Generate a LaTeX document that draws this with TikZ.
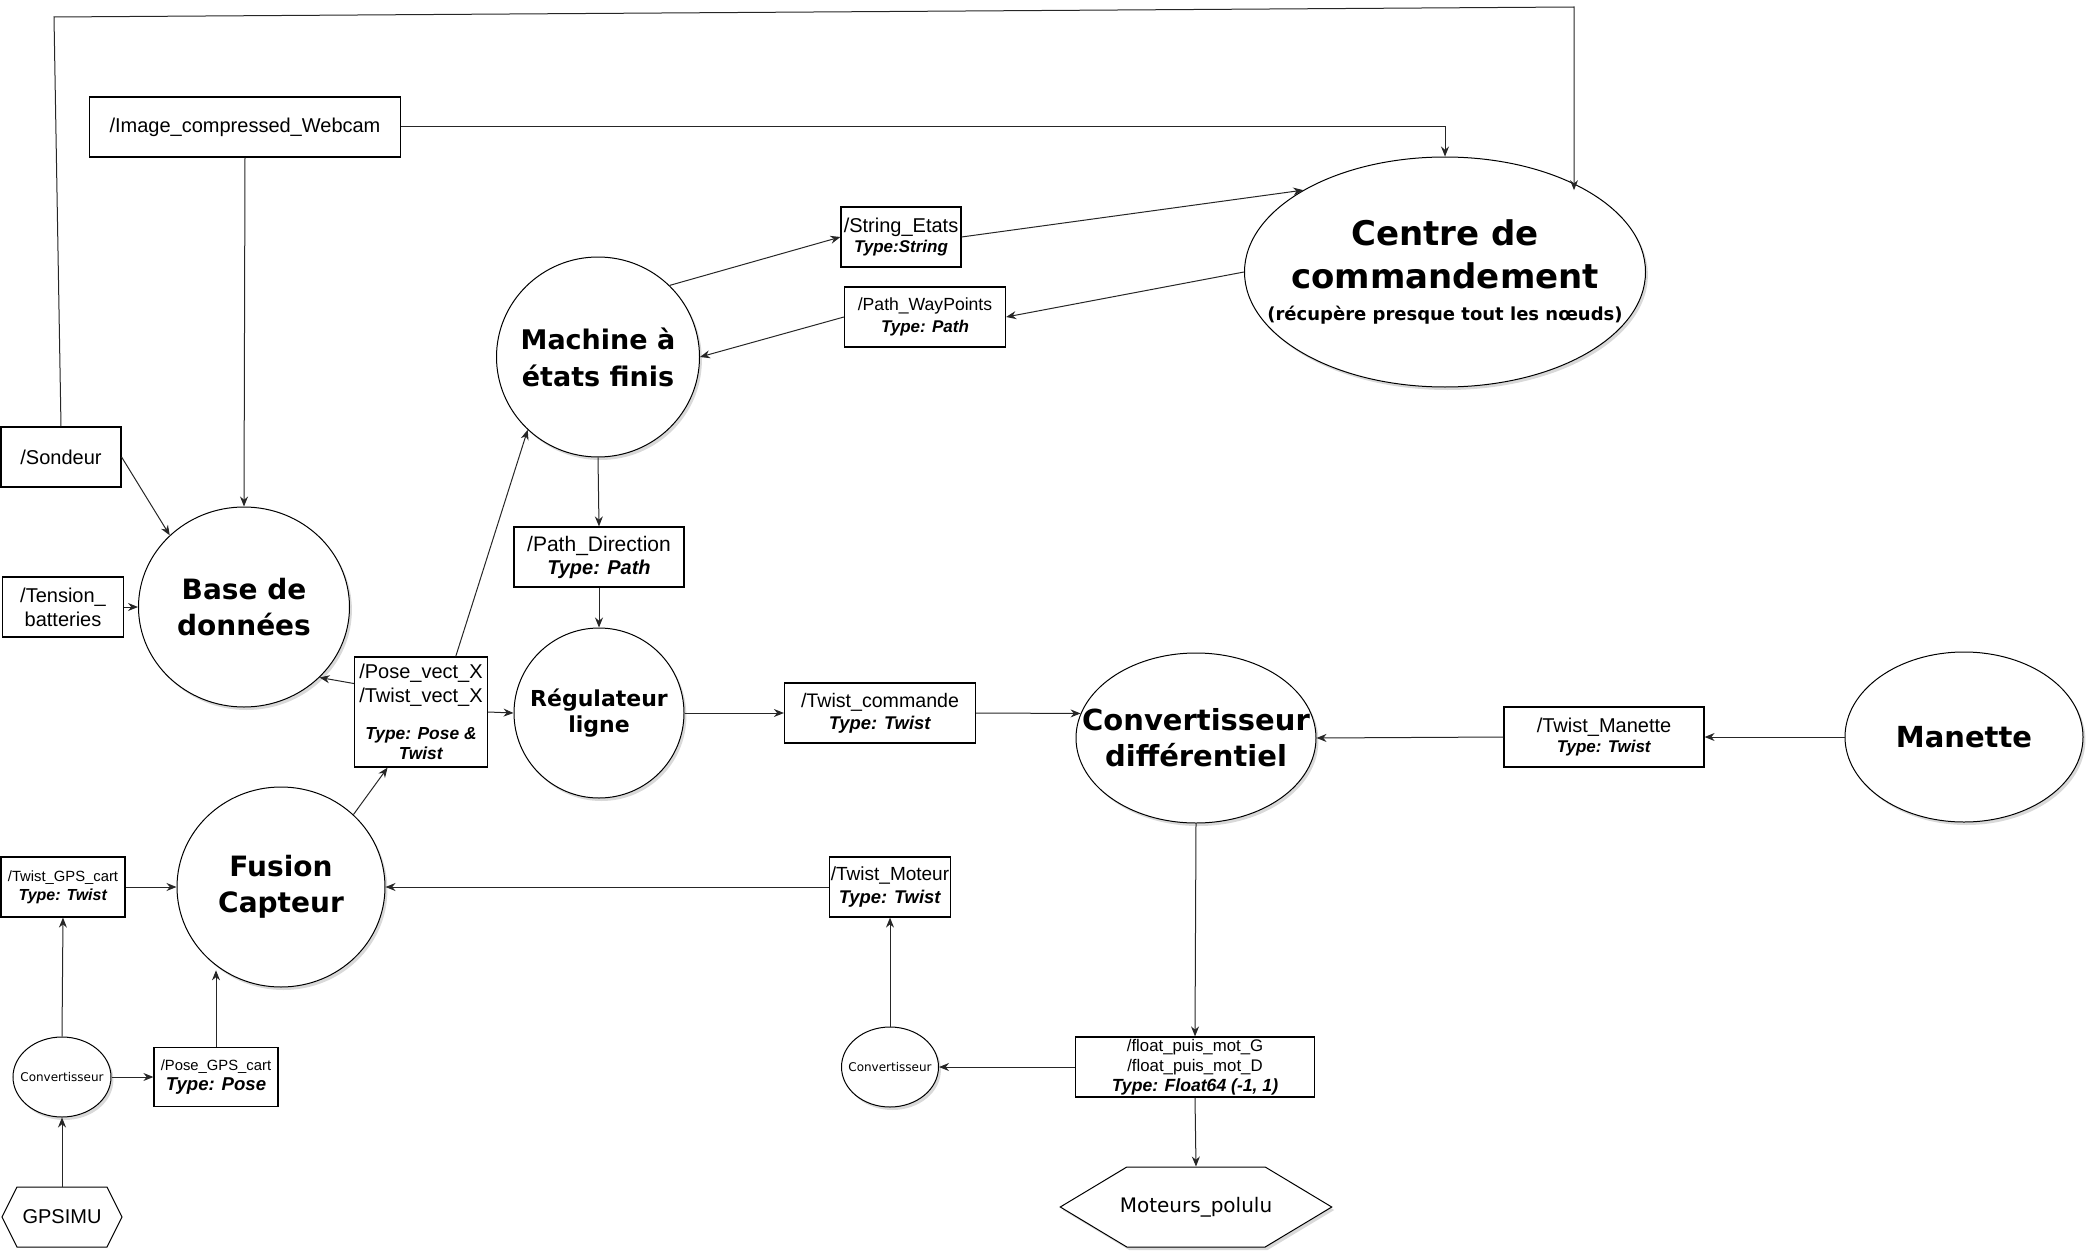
\documentclass[tikz,border=0pt]{standalone}
\usepackage{fontspec}
\setmainfont{Liberation Sans}
\newfontfamily\verdfont{DejaVu Sans}
\usetikzlibrary{shapes.geometric,shapes.symbols,arrows.meta,shadows}
\newcommand{\typ}[1]{\textbf{\textit{#1}}}

\begin{document}
\begin{tikzpicture}[x=0.5pt,y=-0.5pt,
  topic/.style={draw,rectangle,line width=0.6pt,inner sep=0pt,align=center,font=\fontsize{10}{12}\selectfont},
  noeud/.style={draw,ellipse,line width=0.5pt,fill=white,inner sep=0pt,drop shadow={shadow xshift=1.2pt,shadow yshift=-1.5pt,opacity=0.3}},
  titre/.style={align=center,font=\verdfont\bfseries\fontsize{14}{18}\selectfont},
  petit/.style={align=center,font=\verdfont\fontsize{6}{7}\selectfont},
  materiel/.style={draw,signal,signal to=west and east,inner sep=0pt,line width=0.5pt},
  fleche/.style={-{Stealth[length=5pt,width=4pt]},line width=0.5pt,black!85}]
\useasboundingbox (0,0) rectangle (2088,1252);

\node(centre)[noeud,minimum width=200.5pt,minimum height=115pt,label={[titre,font=\verdfont\bfseries\fontsize{17}{21.5}\selectfont]center:Centre de\\commandement\\[-5.5pt]{\fontsize{9}{11}\selectfont(récupère presque tout les nœuds)}}] at (1445,272) {};
\node(machine)[noeud,minimum width=101.5pt,minimum height=100pt,label={[titre,font=\verdfont\bfseries\fontsize{13.5}{18.5}\selectfont]center:Machine à\\états finis}] at (598,357) {};
\node(base)[noeud,minimum width=105.5pt,minimum height=100pt,label={[titre]center:Base de\\données}] at (244,607) {};
\node(regul)[noeud,minimum width=85pt,minimum height=85pt,label={[titre,font=\verdfont\bfseries\fontsize{11}{13}\selectfont]center:Régulateur\\ligne}] at (599,713) {};
\node(fusion)[noeud,minimum width=104pt,minimum height=100pt,label={[titre]center:Fusion\\Capteur}] at (281,887) {};
\node(convdiff)[noeud,minimum width=120pt,minimum height=85pt,label={[titre,font=\verdfont\bfseries\fontsize{14.5}{18}\selectfont]center:Convertisseur\\différentiel}] at (1196,738) {};
\node(manette)[noeud,minimum width=119pt,minimum height=85pt,label={[titre,font=\verdfont\bfseries\fontsize{14.5}{18}\selectfont]center:Manette}] at (1964,737) {};
\node(conv1)[noeud,minimum width=49pt,minimum height=40pt,label={[petit]center:Convertisseur}] at (62,1077) {};
\node(conv2)[noeud,minimum width=48.5pt,minimum height=40pt,label={[petit]center:Convertisseur}] at (890,1067) {};

\node(gpsimu)[materiel,minimum width=60pt,minimum height=30pt,signal pointer angle=127] at (62,1217) {GPSIMU};
\node(moteurs)[materiel,fill=white,inner xsep=-3.5pt,minimum width=128pt,minimum height=40pt,signal pointer angle=62,font=\verdfont,drop shadow={shadow xshift=1.2pt,shadow yshift=-1.5pt,opacity=0.3}] at (1196,1207) {Moteurs\_polulu};

\node(webcam)[topic,minimum width=155.5pt,minimum height=30pt] at (245,127) {/Image\_compressed\_Webcam};
\node(sondeur)[topic,minimum width=60pt,minimum height=30pt] at (61,457) {/Sondeur};
\node(tension)[topic,minimum width=60.5pt,minimum height=30pt] at (63,607) {/Tension\_\\batteries};
\node(posevect)[topic,minimum width=66.5pt,minimum height=55pt] at (421,712) {/Pose\_vect\_X\\/Twist\_vect\_X\\[6.5pt]{\fontsize{8.7}{10}\selectfont\typ{Type: Pose \&}}\\[-2pt]{\fontsize{8.7}{10}\selectfont\typ{Twist}}};
\node(pathdir)[topic,minimum width=85pt,minimum height=30pt,font=\fontsize{10.5}{11.5}\selectfont] at (599,557) {/Path\_Direction\\{\fontsize{10}{11}\selectfont\typ{Type: Path}}};
\node(stringetats)[topic,minimum width=60pt,minimum height=30pt,font=\fontsize{10}{10}\selectfont] at (901,237) {/String\_Etats\\{\fontsize{8.5}{10}\selectfont\typ{Type:String}}};
\node(waypoints)[topic,minimum width=80.5pt,minimum height=30pt,font=\fontsize{8.8}{11}\selectfont] at (925,317) {/Path\_WayPoints\\{\fontsize{8.5}{10}\selectfont\typ{Type: Path}}};
\node(twistcmd)[topic,minimum width=95.5pt,minimum height=30pt,font=\fontsize{9.8}{11}\selectfont] at (880,713) {/Twist\_commande\\{\fontsize{9.2}{10}\selectfont\typ{Type: Twist}}};
\node(twistmanette)[topic,minimum width=100pt,minimum height=30pt,font=\fontsize{10}{10}\selectfont] at (1604,737) {/Twist\_Manette\\{\fontsize{8.5}{10}\selectfont\typ{Type: Twist}}};
\node(twistgps)[topic,minimum width=62pt,minimum height=30pt,font=\fontsize{7.4}{9.5}\selectfont] at (63,887) {/Twist\_GPS\_cart\\{\fontsize{8}{9}\selectfont\typ{Type: Twist}}};
\node(posegps)[topic,minimum width=62pt,minimum height=29.5pt,font=\fontsize{7.4}{10}\selectfont] at (216,1077) {/Pose\_GPS\_cart\\{\fontsize{9.3}{10}\selectfont\typ{Type: Pose}}};
\node(twistmoteur)[topic,minimum width=60.5pt,minimum height=30pt,font=\fontsize{9.5}{11.5}\selectfont] at (890,887) {/Twist\_Moteur\\{\fontsize{9.2}{10}\selectfont\typ{Type: Twist}}};
\node(floatbox)[topic,minimum width=119.5pt,minimum height=30pt,font=\fontsize{8.4}{10}\selectfont] at (1195,1067) {/float\_puis\_mot\_G\\/float\_puis\_mot\_D\\{\fontsize{8.8}{10}\selectfont\typ{Type: Float64 (-1, 1)}}};

\coordinate (coinG) at (54,17);
\coordinate (coinD) at (1574,7);

\draw[fleche] (sondeur.north) -- (coinG) -- (coinD) -- (coinD |- centre.30);
\draw[fleche] (webcam.east) -| (centre.north);
\draw[fleche] (webcam.south) -- (base.north);
\draw[fleche] (sondeur.east) -- (base.136);
\draw[fleche] (tension.east) -- (base.west);
\draw[fleche] (posevect.157) -- (base.-43);
\draw[fleche] (posevect.east) -- (regul.west);
\draw[fleche] (posevect.58) -- (machine.226);
\draw[fleche] (fusion.45) -- (posevect.-121);
\draw[fleche] (machine.south) -- (pathdir.north);
\draw[fleche] (pathdir.south) -- (regul.north);
\draw[fleche] (machine.45) -- (stringetats.west);
\draw[fleche] (stringetats.east) -- (centre.150);
\draw[fleche] (centre.west) -- (waypoints.east);
\draw[fleche] (waypoints.west) -- (machine.east);
\draw[fleche] (regul.east) -- (twistcmd.west);
\draw[fleche] (twistcmd.east) -- (convdiff.168);
\draw[fleche] (manette.west) -- (twistmanette.east);
\draw[fleche] (twistmanette.west) -- (convdiff.east);
\draw[fleche] (convdiff.south) -- (floatbox.north);
\draw[fleche] (floatbox.south) -- (moteurs.north);
\draw[fleche] (floatbox.west) -- (conv2.east);
\draw[fleche] (conv2.north) -- (twistmoteur.south);
\draw[fleche] (twistmoteur.west) -- (fusion.east);
\draw[fleche] (gpsimu.north) -- (conv1.south);
\draw[fleche] (conv1.north) -- (twistgps.south);
\draw[fleche] (conv1.east) -- (posegps.west);
\draw[fleche] (twistgps.east) -- (fusion.west);
\draw[fleche] (posegps.north) -- (posegps.north |- fusion.-125);
\end{tikzpicture}
\end{document}
